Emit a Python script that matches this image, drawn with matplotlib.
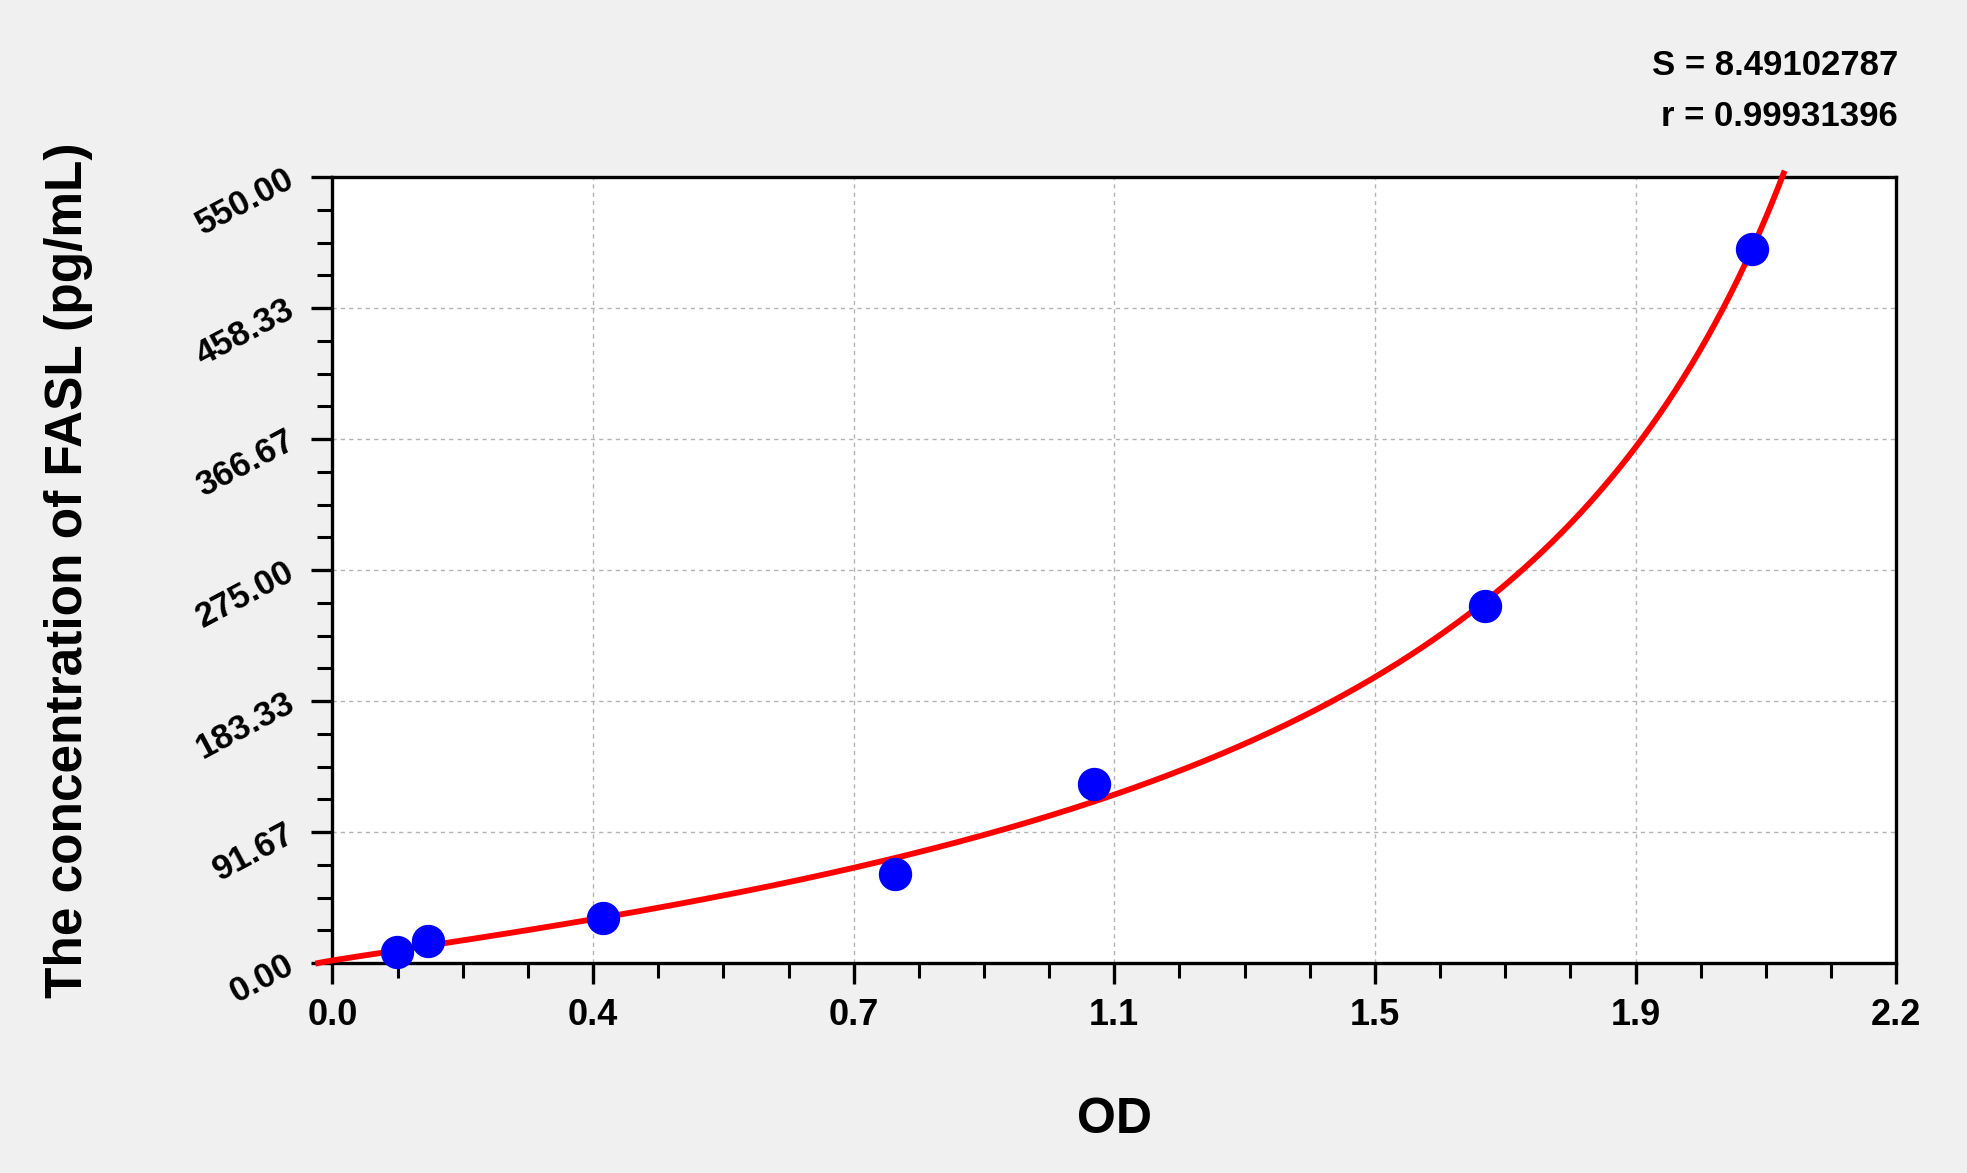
import numpy as np
import matplotlib.pyplot as plt
from matplotlib.ticker import FixedLocator, MultipleLocator

# standard points
od = [0.091, 0.135, 0.380, 0.792, 1.071, 1.622, 1.997]
conc = [7.81, 15.63, 31.25, 62.5, 125.0, 250.0, 500.0]

x_ticks = [0.0, 0.3667, 0.7333, 1.1, 1.4667, 1.8333, 2.2]
x_labels = ['0.0', '0.4', '0.7', '1.1', '1.5', '1.9', '2.2']
y_ticks = [0.0, 91.67, 183.33, 275.0, 366.67, 458.33, 550.0]
y_labels = ['0.00', '91.67', '183.33', '275.00', '366.67', '458.33', '550.00']

s_value = '8.49102787'
r_value = '0.99931396'

fam = ['Liberation Sans', 'DejaVu Sans']


def fit_curve(x, y):
    # y = c * ((x - a) / (d - x)) ** p, brute-force search, c by linear LS
    x = np.asarray(x)[:, None, None, None]
    y = np.asarray(y)[:, None, None, None]
    a = np.linspace(-0.06, 0.06, 13)[None, :, None, None]
    d = np.linspace(2.1, 4.0, 96)[None, None, :, None]
    p = np.linspace(0.5, 1.6, 111)[None, None, None, :]
    g = np.clip((x - a) / (d - x), 1e-9, None) ** p
    c = (g * y).sum(0) / (g * g).sum(0)
    sse = ((c[None] * g - y) ** 2).sum(0)
    i, j, k = np.unravel_index(np.argmin(sse), sse.shape)
    return a[0, i, 0, 0], d[0, 0, j, 0], p[0, 0, 0, k], c[i, j, k]


fa, fd, fp, fc = fit_curve(od, conc)

fig = plt.figure(figsize=(19.67, 11.73), dpi=100, facecolor='#f0f0f0')
ax = fig.add_axes([0.169, 0.179, 0.795, 0.670])
ax.set_facecolor('white')

xs = np.linspace(fa, 2.2, 800)
ys = fc * np.clip((xs - fa) / (fd - xs), 0, None) ** fp
keep = ys <= 556
ax.plot(xs[keep], ys[keep], color='#ff0000', lw=4.2, zorder=3, clip_on=False)

ax.plot(od, conc, 'o', color='#0000ff', markersize=23, zorder=4, clip_on=False)

ax.set_xlim(0, 2.2)
ax.set_ylim(0, 550)

ax.xaxis.set_major_locator(FixedLocator(x_ticks))
ax.xaxis.set_minor_locator(MultipleLocator(2.2 / 24))
ax.yaxis.set_major_locator(FixedLocator(y_ticks))
ax.yaxis.set_minor_locator(MultipleLocator(550 / 24))

ax.set_xticklabels(x_labels, fontsize=26, fontweight='bold', family=fam)
ax.set_yticklabels(y_labels, fontsize=25, fontweight='bold', family=fam,
                   rotation=28, ha='right', va='center', rotation_mode='anchor')

ax.tick_params(which='major', direction='out', length=15, width=2.4, color='black')
ax.tick_params(which='minor', direction='out', length=11, width=2.2, color='black')
ax.tick_params(axis='x', which='major', pad=10)
ax.tick_params(axis='y', which='major', pad=14)

for s in ax.spines.values():
    s.set_linewidth(2.4)
    s.set_color('black')

ax.grid(True, which='major', color='#b4b4b4', linestyle=(0, (3, 3)), linewidth=1.0)
ax.set_axisbelow(True)

ax.set_xlabel('OD', fontsize=36, fontweight='bold', family=fam, labelpad=46)
ax.set_ylabel('The concentration of FASL (pg/mL)', fontsize=37, fontweight='bold',
              family=fam)
ax.yaxis.set_label_coords(-0.153, 0.5)

fig.text(0.965, 0.944, f'S = {s_value}', ha='right', va='center',
         fontsize=25, fontweight='bold', family=fam)
fig.text(0.965, 0.901, f'r = {r_value}', ha='right', va='center',
         fontsize=25, fontweight='bold', family=fam)

fig.savefig('out.png', dpi=100, facecolor=fig.get_facecolor())
